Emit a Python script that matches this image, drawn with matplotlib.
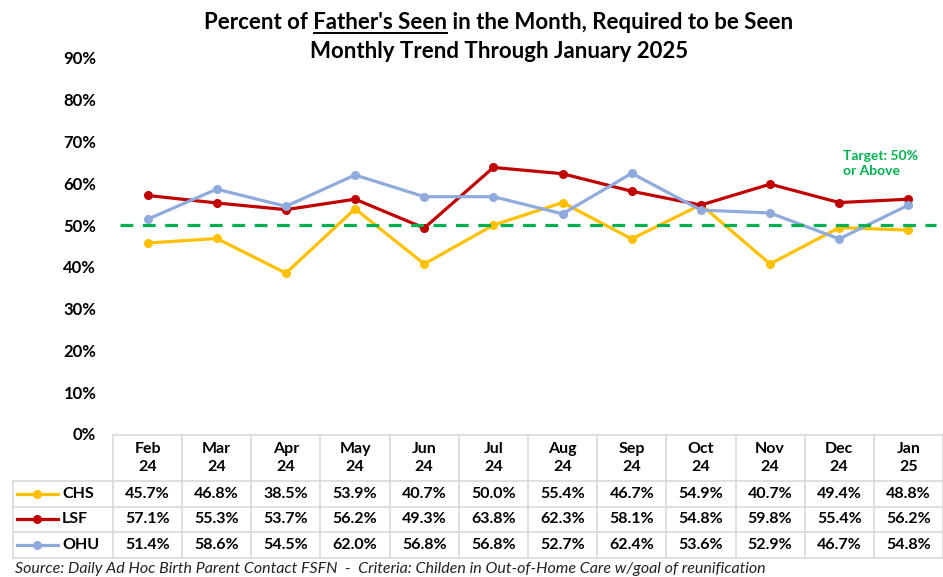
import matplotlib
matplotlib.use('Agg')
import matplotlib.pyplot as plt
import numpy as np

plt.rcParams['font.family'] = ['Lato', 'DejaVu Sans']

months = ['Feb\n24', 'Mar\n24', 'Apr\n24', 'May\n24', 'Jun\n24', 'Jul\n24',
          'Aug\n24', 'Sep\n24', 'Oct\n24', 'Nov\n24', 'Dec\n24', 'Jan\n25']
chs = [45.7, 46.8, 38.5, 53.9, 40.7, 50.0, 55.4, 46.7, 54.9, 40.7, 49.4, 48.8]
lsf = [57.1, 55.3, 53.7, 56.2, 49.3, 63.8, 62.3, 58.1, 54.8, 59.8, 55.4, 56.2]
ohu = [51.4, 58.6, 54.5, 62.0, 56.8, 56.8, 52.7, 62.4, 53.6, 52.9, 46.7, 54.8]
target = 50
yticks = [0, 10, 20, 30, 40, 50, 60, 70, 80, 90]

series = [('CHS', chs, '#FFC000'), ('LSF', lsf, '#C00000'), ('OHU', ohu, '#8FAADC')]

W, H = 943, 577
fig = plt.figure(figsize=(W / 100, H / 100), dpi=100)

def px(x0, y0, x1, y1):
    # rectangle in pixel coords (top-left origin) -> figure fraction
    return [x0 / W, 1 - y1 / H, (x1 - x0) / W, (y1 - y0) / H]

# main chart
ax = fig.add_axes(px(113, 58, 943, 434))
x = np.arange(len(months))
for name, vals, col in series:
    ax.plot(x, vals, color=col, lw=2.3, marker='o', ms=5.5, zorder=3)
ax.plot([-0.4, 11.4], [target, target], color='#00B050', lw=2.3,
        ls=(0, (4, 3)), zorder=4)
ax.text(10.05, 68.0, 'Target: 50%\nor Above', color='#00B050', fontsize=10,
        fontweight='bold', va='top', ha='left', linespacing=1.35)
ax.set_xlim(-0.5, 11.5)
ax.set_ylim(0, 90)
ax.set_yticks(yticks)
ax.set_yticklabels([f'{t}%' for t in yticks], fontsize=12, fontweight='bold')
ax.tick_params(axis='y', length=0, pad=12)
ax.set_xticks([])
for s in ax.spines.values():
    s.set_visible(False)

# data table
tax = fig.add_axes(px(113, 435, 943, 558))
tax.set_xlim(-0.5, 11.5)
tax.set_ylim(558, 435)
tax.axis('off')
colw = 830 / 12
left = -0.5 - 100 / colw
gc = '#D9D9D9'
rows_y = [435, 481, 507, 532, 558]
for i in range(13):
    tax.plot([i - 0.5, i - 0.5], [435, 558], color=gc, lw=1.2, clip_on=False)
tax.plot([left, left], [481, 558], color=gc, lw=1.2, clip_on=False)
tax.plot([-0.5, 11.5], [435, 435], color=gc, lw=1.2, clip_on=False)
for yy in rows_y[1:]:
    tax.plot([left, 11.5], [yy, yy], color=gc, lw=1.2, clip_on=False)
for i, m in enumerate(months):
    tax.text(i, 458, m, ha='center', va='center', fontsize=11.5,
             fontweight='bold', linespacing=1.3)
for r, (name, vals, col) in enumerate(series):
    yc = (rows_y[r + 1] + rows_y[r + 2]) / 2
    lx0 = left + 4 / colw
    lx1 = left + 45 / colw
    tax.plot([lx0, lx1], [yc, yc], color=col, lw=2.3, clip_on=False)
    tax.plot([(lx0 + lx1) / 2], [yc], 'o', color=col, ms=5.5, clip_on=False)
    tax.text(left + 49 / colw, yc, name, ha='left', va='center', fontsize=11.5,
             fontweight='bold')
    for i, v in enumerate(vals):
        tax.text(i, yc, f'{v:.1f}%', ha='center', va='center', fontsize=11.5,
                 fontweight='bold')

# title with underlined part
p1 = 'Percent of '
p2 = "Father's Seen"
p3 = ' in the Month, Required to be Seen'
tkw = dict(fontsize=16, fontweight='bold', va='baseline')
fig.canvas.draw()
r = fig.canvas.get_renderer()
tmp = [fig.text(0, 0, s, **tkw) for s in (p1, p2, p1 + p2 + p3)]
w1, w2, wall = [t.get_window_extent(r).width for t in tmp]
for t in tmp:
    t.remove()
cx = 499
x0 = cx - wall / 2
base = H - 29
fig.text(x0 / W, base / H, p1 + p2 + p3, **tkw)
fig.add_artist(plt.Line2D([(x0 + w1) / W, (x0 + w1 + w2) / W],
                          [(base - 4) / H, (base - 4) / H], color='black', lw=1.4))
fig.text(cx / W, (H - 58) / H, 'Monthly Trend Through January 2025', ha='center', **tkw)

fig.text(15 / W, 1 / H,
         'Source: Daily Ad Hoc Birth Parent Contact FSFN  -  Criteria: Childen in Out-of-Home Care w/goal of reunification',
         fontsize=11.5, style='italic', va='bottom', ha='left', color='#222222')

fig.savefig('out.png', dpi=100)
